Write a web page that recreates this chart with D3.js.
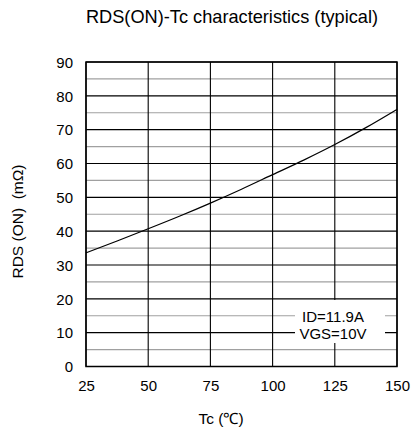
<!DOCTYPE html>
<html><head><meta charset="utf-8">
<script src="https://cdn.jsdelivr.net/npm/d3@7/dist/d3.min.js"></script>
<style>body{margin:0;background:#fff}svg{display:block}text{font-family:"Liberation Sans",Arial,sans-serif;fill:#000}</style>
</head><body>
<svg id="c" width="413" height="430"></svg>
<script>
const tc = [25, 37.5, 50, 62.5, 75, 87.5, 100, 112.5, 125, 137.5, 150];
const rds = [33.6, 37.1, 40.7, 44.4, 48.3, 52.4, 56.7, 61.0, 65.6, 70.6, 76.0];
const xTicks = [25, 50, 75, 100, 125, 150];
const yTicks = [0, 10, 20, 30, 40, 50, 60, 70, 80, 90];
const yMinor = [5, 15, 25, 35, 45, 55, 65, 75, 85];
const legendLines = ["ID=11.9A", "VGS=10V"];
const title = "RDS(ON)-Tc characteristics (typical)";
const xLabel = "Tc (℃)";
const yLabel = "RDS (ON)  (mΩ)";

const FF = '"Liberation Sans",Arial,sans-serif';
const svg = d3.select("#c");
const L = 86, R = 397, T = 62, B = 366.5;
const x = d3.scaleLinear().domain([25, 150]).range([L, R]);
const y = d3.scaleLinear().domain([0, 90]).range([B, T]);

const g = svg.append("g");
g.selectAll(".mn").data(yMinor).enter().append("line")
  .attr("x1", L).attr("x2", R).attr("y1", d => y(d)).attr("y2", d => y(d))
  .attr("stroke", "#a0a0a0").attr("stroke-width", 1.2);
g.selectAll(".mj").data(yTicks).enter().append("line")
  .attr("x1", L).attr("x2", R).attr("y1", d => y(d)).attr("y2", d => y(d))
  .attr("stroke", "#000").attr("stroke-width", 1.1);
g.selectAll(".vx").data(xTicks).enter().append("line")
  .attr("y1", T).attr("y2", B).attr("x1", d => x(d)).attr("x2", d => x(d))
  .attr("stroke", "#000").attr("stroke-width", 1.1);

// legend box
svg.append("rect").attr("x", 295).attr("y", 300).attr("width", 90).attr("height", 43).attr("fill", "#fff");
svg.selectAll(".lg").data(legendLines).enter().append("text")
  .attr("x", 333).attr("y", (d, i) => 321.5 + i * 17.5).attr("text-anchor", "middle")
  .attr("font-size", 15).text(d => d);

// border
svg.append("rect").attr("x", L).attr("y", T).attr("width", R - L).attr("height", B - T)
  .attr("fill", "none").attr("stroke", "#000").attr("stroke-width", 1.5);

// curve
const line = d3.line().x((d, i) => x(tc[i])).y(d => y(d)).curve(d3.curveMonotoneX);
svg.append("path").attr("d", line(rds)).attr("fill", "none").attr("stroke", "#000").attr("stroke-width", 1.2);

// axes labels
const xAxis = d3.axisBottom(x).tickValues(xTicks).tickSize(0).tickPadding(0);
const xa = svg.append("g").attr("transform", `translate(0,${B})`).call(xAxis);
xa.select(".domain").remove();
xa.selectAll("text").attr("y", 24).attr("dy", 0).attr("font-size", 15).attr("font-family", FF);
const yAxis = d3.axisLeft(y).tickValues(yTicks).tickSize(0).tickPadding(0);
const ya = svg.append("g").attr("transform", `translate(${L - 13},0)`).call(yAxis);
ya.select(".domain").remove();
ya.selectAll("text").attr("x", 0).attr("dy", "0.35em").attr("font-size", 15).attr("font-family", FF);

svg.append("text").attr("x", 232).attr("y", 23).attr("text-anchor", "middle").attr("font-size", 18.2).text(title);
svg.append("text").attr("x", 221).attr("y", 424).attr("text-anchor", "middle").attr("font-size", 15.5).text(xLabel);
svg.append("text").attr("transform", "translate(23,221.5) rotate(-90)").attr("text-anchor", "middle")
  .attr("font-size", 15.5).attr("xml:space", "preserve").style("white-space", "pre").text(yLabel);
</script>
</body></html>
